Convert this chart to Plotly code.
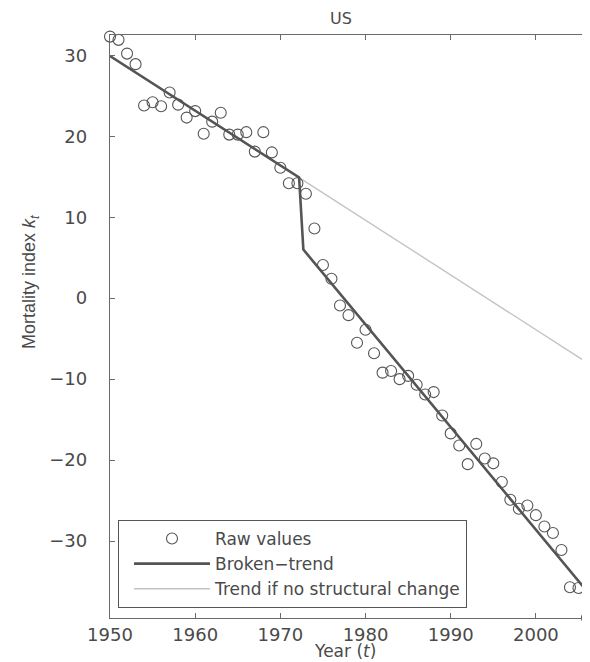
import plotly.graph_objects as go

years = list(range(1950, 2007))
raw_values = [32.3, 31.9, 30.2, 28.9, 23.8, 24.2, 23.7, 25.4, 23.9, 22.3,
              23.1, 20.3, 21.8, 22.9, 20.2, 20.2, 20.5, 18.1, 20.5, 18.0,
              16.1, 14.2, 14.2, 12.9, 8.6, 4.1, 2.4, -0.9, -2.1, -5.5,
              -3.9, -6.8, -9.2, -9.0, -10.0, -9.6, -10.7, -11.9, -11.6, -14.5,
              -16.7, -18.2, -20.5, -18.0, -19.8, -20.4, -22.7, -24.9, -26.0, -25.6,
              -26.8, -28.2, -29.0, -31.1, -35.7, -35.8, -39.5]

broken_years = [1950, 1972.2, 1972.7, 2006]
broken_values = [29.9, 14.9, 6.0, -36.2]

nochange_years = [1950, 2006]
nochange_values = [29.9, -7.95]

x_ticks = [1950, 1960, 1970, 1980, 1990, 2000]
y_ticks = [-30, -20, -10, 0, 10, 20, 30]

FONT = "DejaVu Sans, Liberation Sans, sans-serif"
TXT = "#4a4a4a"
AX = "#6a6a6a"

# the page body adds an 8px offset; size the figure to compensate
W, H = 582, 654
L, R, T, B = 102, 3, 27, 44
PW, PH = W - L - R, H - T - B

fig = go.Figure()
fig.add_trace(go.Scatter(
    x=nochange_years, y=nochange_values, mode="lines", name="Trend if no structural change",
    line=dict(color="#c4c4c4", width=1.4),
))
fig.add_trace(go.Scatter(
    x=broken_years, y=broken_values, mode="lines", name="Broken\u2212trend",
    line=dict(color="#555555", width=2.6),
))
fig.add_trace(go.Scatter(
    x=years, y=raw_values, mode="markers", name="Raw values",
    marker=dict(symbol="circle-open", size=11, color="#555555", line=dict(width=1.1)),
    cliponaxis=False,
))

fig.update_layout(
    width=W, height=H,
    margin=dict(l=L, r=R, t=T, b=B),
    paper_bgcolor="white", plot_bgcolor="white",
    font=dict(family=FONT, size=17, color=TXT),
    title=dict(text="US", x=333 / W, xanchor="center", y=1 - 10 / H,
               yanchor="middle", font=dict(size=16, color=TXT)),
    showlegend=True,
    legend=dict(
        x=8 / PW, y=10 / PH, xanchor="left", yanchor="bottom",
        bgcolor="white", bordercolor="#555555", borderwidth=1,
        font=dict(size=17, color=TXT), traceorder="reversed",
        itemwidth=76, indentation=10, tracegroupgap=0,
    ),
    xaxis=dict(
        range=[1950, 2006], tickvals=x_ticks, ticks="inside", ticklen=5,
        tickcolor=AX, showline=True, linecolor=AX, linewidth=1.3, mirror="ticks",
        showgrid=False, zeroline=False, tickfont=dict(size=18, color=TXT),
    ),
    yaxis=dict(
        range=[-39.5, 32.5], tickvals=y_ticks, ticks="inside", ticklen=5,
        tickcolor=AX, showline=True, linecolor=AX, linewidth=1.3, mirror="ticks",
        showgrid=False, zeroline=False, tickfont=dict(size=18, color=TXT),
        ticklabelstandoff=18,
    ),
    annotations=[
        dict(
            text="Mortality index <i>k</i><sub><i>t</i></sub>",
            xref="paper", yref="paper", x=(22 - L) / PW, y=1 - (274 - T) / PH,
            xanchor="center", yanchor="middle", textangle=-90, showarrow=False,
            font=dict(family="Liberation Sans Narrow, Liberation Sans, sans-serif",
                      size=18, color=TXT),
        ),
        dict(
            text="Year (<i>t</i>)",
            xref="paper", yref="paper", x=(337 - L) / PW, y=-(643 - (H - B)) / PH,
            xanchor="center", yanchor="middle", showarrow=False,
            font=dict(size=17, color=TXT),
        ),
    ],
)

fig.write_html("out.html")
